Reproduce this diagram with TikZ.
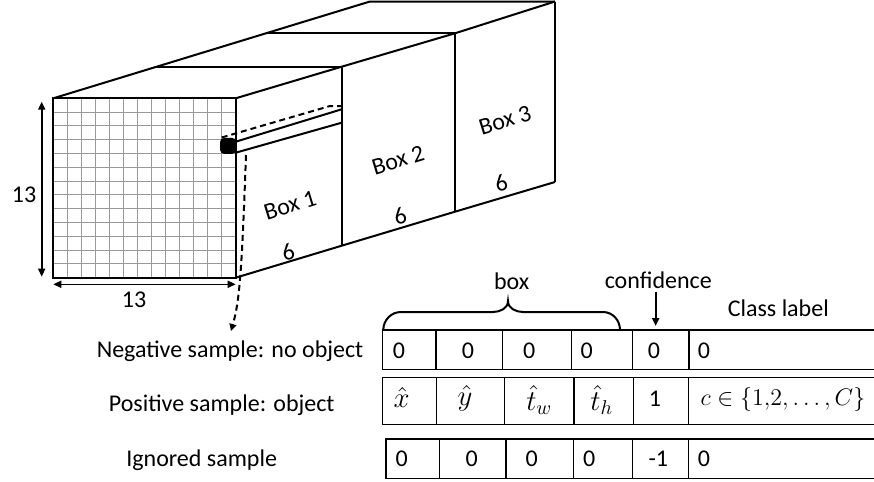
\documentclass[tikz,border=0pt]{standalone}
\usepackage{fontspec}
\setmainfont{Carlito}
\usetikzlibrary{arrows.meta}
\begin{document}
\begin{tikzpicture}[x=0.5pt,y=-0.5pt,
  edge/.style={line width=1pt,black},
  gridline/.style={line width=0.45pt,black!40},
  tab/.style={line width=0.75pt},
  lbl/.style={font=\fontsize{12}{14}\selectfont,inner sep=0pt},
  mlbl/.style={font=\fontsize{14.5}{16}\selectfont,inner sep=0pt},
  dimarrow/.style={line width=0.8pt,{Triangle[length=4pt,width=3.5pt]}-{Triangle[length=4pt,width=3.5pt]}},
  dash1/.style={dashed,dash pattern=on 3pt off 2pt,line width=1pt},
]
\useasboundingbox (0,0) rectangle (874,482);

% ---- feature map: 13 x 13 front grid ----
\foreach \i in {1,...,12} {
  \draw[gridline] ({53.3+\i*14.03},98.3) -- ({53.3+\i*14.03},277.7);
  \draw[gridline] (53.3,{98.3+\i*13.8}) -- (235.7,{98.3+\i*13.8});
}
\draw[edge] (53.3,98.3) rectangle (235.7,277.7);

% ---- depth: top face and the three anchor boxes ----
\draw[edge] (53.3,98.3) -- (370,1.5) -- (555,1.5);
\draw[edge] (157,66.7) -- (341.7,66.7);
\draw[edge] (267,33.3) -- (455,33.3);
\draw[edge] (235.7,98.3) -- (341.7,66.7) -- (455,33.3) -- (555,1.5);
\draw[edge] (235.7,277.7) -- (341.7,245.7) -- (455,211.7) -- (555,182);
\draw[edge] (341.7,66.7) -- (341.7,245.7);
\draw[edge] (455,33.3) -- (455,211.7);
\draw[edge] (555,1.5) -- (555,182);

% ---- selected cell and its prediction vector ----
\node[fill=black,rounded corners=2pt,minimum width=8pt,minimum height=8pt,
      inner sep=0pt,anchor=north east] (cell) at (236.5,137.5) {};
\draw[edge] (235.7,141.7) -- (341.7,109.3);
\draw[edge] (235.7,152.7) -- (341.7,122.7);
\draw[dash1] (221.7,137.5) -- (330,106) -- (341.7,106);

% ---- dimensions ----
\draw[dimarrow] (41.7,101.7) -- (41.7,276.7);
\node[lbl] (dimv) at (24,195) {13};
\draw[dimarrow] (53.3,284.3) -- (235.7,284.3);
\node[lbl] (dimh) at (134,300) {13};

% ---- box labels ----
\node[lbl,rotate=17] (b1) at (290,205) {Box 1};
\node[lbl,rotate=17] (b1d) at (288,252) {6};
\node[lbl,rotate=17] (b2) at (398,160) {Box 2};
\node[lbl,rotate=17] (b2d) at (400,216) {6};
\node[lbl,rotate=17] (b3) at (505,120) {Box 3};
\node[lbl,rotate=17] (b3d) at (501,183) {6};

% ---- row captions ----
\node[lbl] (neg) at (230,351.7) {Negative sample: no object};
\node[lbl] (pos) at (221.7,405) {Positive sample: object};
\node[lbl] (ign) at (201.7,460) {Ignored sample};

\coordinate (negtip) at (231,331);
\draw[dash1,-{Triangle[length=3.5pt,width=3.5pt]}]
  (246,155) .. controls (242,265) and (240,300) .. (negtip);

% ---- target vectors ----
% row 1
\draw[tab] (874,330) -- (382.7,330) -- (382.7,369.3) -- (874,369.3);
\foreach \x in {436,502.7,571.7,632.7,689} \draw[tab] (\x,330) -- (\x,369.3);
% row 2
\draw[tab] (874,377.3) -- (382.7,377.3) -- (382.7,424.3) -- (874,424.3);
\foreach \x in {436.7,504.3,574,633.3,688.7} \draw[tab] (\x,377.3) -- (\x,424.3);
% row 3
\draw[tab] (874,439) -- (386,439) -- (386,478.3) -- (874,478.3);
\foreach \x in {439.3,506,573.3,632.7,688.7} \draw[tab] (\x,439) -- (\x,478.3);

% row 1 entries
\node[lbl] (n1) at (399,350.5) {0};
\node[lbl] (n2) at (468,350.5) {0};
\node[lbl] (n3) at (529.3,350.5) {0};
\node[lbl] (n4) at (586.7,350.5) {0};
\node[lbl] (n5) at (654,350.5) {0};
\node[lbl] (n6) at (704,350.5) {0};
% row 2 entries
\node[mlbl] (p1) at (401.7,397) {$\hat{x}$};
\node[mlbl] (p2) at (465,398) {$\hat{y}$};
\node[mlbl] (p3) at (539.3,400) {$\hat{t}_w$};
\node[mlbl] (p4) at (601.7,400) {$\hat{t}_h$};
\node[lbl] (p5) at (655,399) {1};
\node[lbl] (p6) at (783,399) {$c\in\{1{,}2,\ldots,C\}$};
% row 3 entries
\node[lbl] (g1) at (401.7,458.5) {0};
\node[lbl] (g2) at (471.7,458.5) {0};
\node[lbl] (g3) at (531.7,458.5) {0};
\node[lbl] (g4) at (589.3,458.5) {0};
\node[lbl] (g5) at (658.3,458.5) {-1};
\node[lbl] (g6) at (704,458.5) {0};

% ---- headings ----
\draw[line width=1pt] (383.3,330) to[out=90,in=180] (401,312) -- (493,312)
  to[out=0,in=-90] (508,301) to[out=-90,in=180] (523,312) -- (603,312)
  to[out=0,in=90] (620,330);
\node[lbl] (boxh) at (511.7,281.7) {box};
\node[lbl] (conf) at (658.3,280) {confidence};
\coordinate (conftip) at (655.7,326);
\draw[line width=1pt,-{Triangle[length=4pt,width=3.5pt]}] (655.7,291.7) -- (conftip);
\node[lbl] (cls) at (778.3,308.3) {Class label};
\end{tikzpicture}
\end{document}
